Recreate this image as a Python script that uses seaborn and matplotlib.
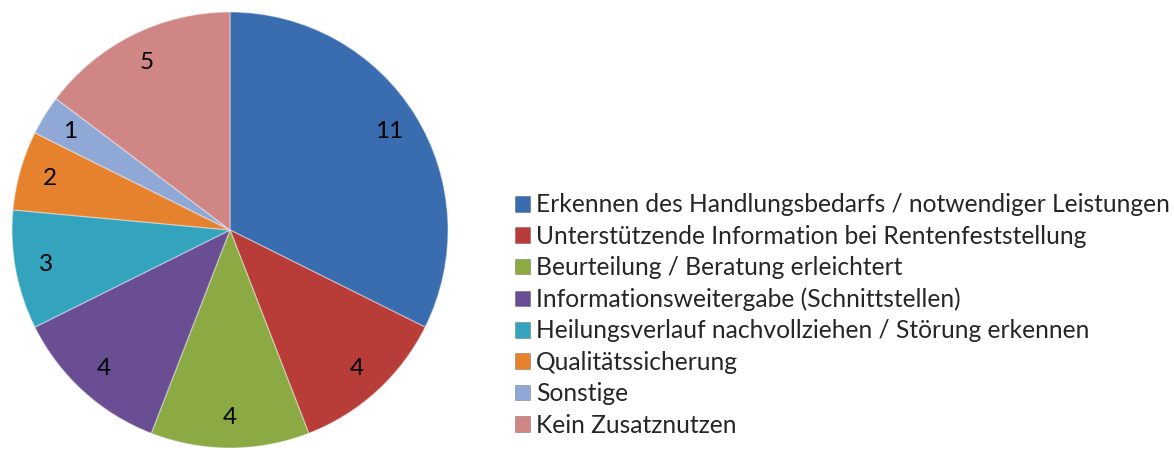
import matplotlib
matplotlib.use("Agg")
import matplotlib.pyplot as plt
import seaborn as sns
from matplotlib.patches import Patch

categories = [
    "Erkennen des Handlungsbedarfs / notwendiger Leistungen",
    "Unterstützende Information bei Rentenfeststellung",
    "Beurteilung / Beratung erleichtert",
    "Informationsweitergabe (Schnittstellen)",
    "Heilungsverlauf nachvollziehen / Störung erkennen",
    "Qualitätssicherung",
    "Sonstige",
    "Kein Zusatznutzen",
]
values = [11, 4, 4, 4, 3, 2, 1, 5]
colors = ["#3A6DB0", "#B83C38", "#8BAA44", "#6A4E93", "#34A3BE", "#E6822E", "#8FA8D6", "#D08684"]

sns.set_theme(style="white")
plt.rcParams["font.family"] = ["Lato", "DejaVu Sans"]

fig = plt.figure(figsize=(11.74, 4.5), dpi=100)
ax = fig.add_axes([12 / 1174, 2 / 450, 436 / 1174, 436 / 450])
palette = sns.color_palette(colors)
wedges, texts, autotexts = ax.pie(
    values,
    colors=palette,
    startangle=90,
    counterclock=False,
    autopct=lambda p: f"{round(p * sum(values) / 100):d}",
    pctdistance=0.86,
    wedgeprops=dict(edgecolor=(1, 1, 1, 0.35), linewidth=1.0),
    textprops=dict(fontsize=17.5, color="black"),
)
ax.set_xlim(-1.0, 1.0)
ax.set_ylim(-1.0, 1.0)
ax.set_aspect("equal")
ax.axis("off")

handles = [Patch(facecolor=c, edgecolor=(0, 0, 0, 0.25), linewidth=0.6) for c in palette]
fig.legend(
    handles, categories,
    loc="center left",
    bbox_to_anchor=(503 / 1174, 1 - 315 / 450),
    frameon=False,
    fontsize=17.7,
    handlelength=0.6,
    handleheight=0.6,
    handletextpad=0.25,
    labelspacing=0.34,
    borderpad=0,
)

fig.savefig("out.png", dpi=100)
